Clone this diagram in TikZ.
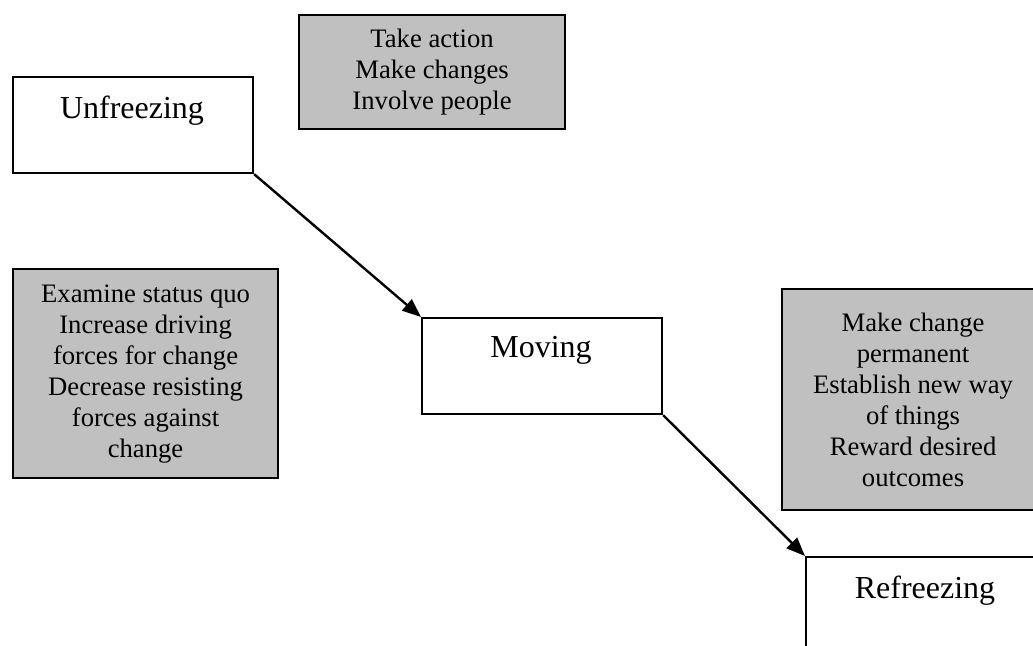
\documentclass[tikz,border=0pt]{standalone}
\usepackage{fontspec}
\setmainfont{Liberation Serif}
\usetikzlibrary{arrows.meta}

\tikzset{
  stagebox/.style={draw=black, line width=1.6pt, fill=white, inner sep=0pt,
    minimum width=180pt, minimum height=72pt, anchor=north west},
  stagelabel/.style={inner sep=0pt, font=\fontsize{24}{28}\selectfont},
  notebox/.style={draw=black, line width=1.6pt, fill=noteGray, inner sep=0pt,
    anchor=north west, align=center, font=\fontsize{20}{23.25}\selectfont},
  flow/.style={line width=1.8pt, -{Triangle[length=14pt, width=11pt]}}
}
\definecolor{noteGray}{HTML}{C0C0C0}

\begin{document}
\begin{tikzpicture}[x=0.75pt, y=-0.75pt]
  \useasboundingbox (0,0) rectangle (1033,646);
  \clip (0,0) rectangle (1033,646);

  % the three stages
  \node[stagebox] (unfreeze) at (12,76) {};
  \node[stagelabel] (unfreezeText) at (132,111) {Unfreezing};

  \node[stagebox] (moving) at (421,317) {};
  \node[stagelabel] (movingText) at (541,350) {Moving};

  \node[stagebox] (refreeze) at (805,556) {};
  \node[stagelabel] (refreezeText) at (925,591) {Refreezing};

  % notes for each stage
  \node[notebox, minimum width=199.5pt, minimum height=85.5pt] (actNote) at (298,14)
    {Take action\\Make changes\\Involve people};

  \node[notebox, minimum width=198.75pt, minimum height=156.75pt] (unfreezeNote) at (12,268)
    {Examine status quo\\Increase driving\\forces for change\\Decrease resisting\\forces against\\change};

  \node[notebox, minimum width=196.5pt, minimum height=165.75pt] (refreezeNote) at (781,288)
    {Make change\\permanent\\Establish new way\\of things\\Reward desired\\outcomes};

  % transitions between stages
  \draw[flow] (unfreeze.south east) -- (moving.north west);
  \draw[flow] (moving.south east) -- (refreeze.north west);
\end{tikzpicture}
\end{document}
